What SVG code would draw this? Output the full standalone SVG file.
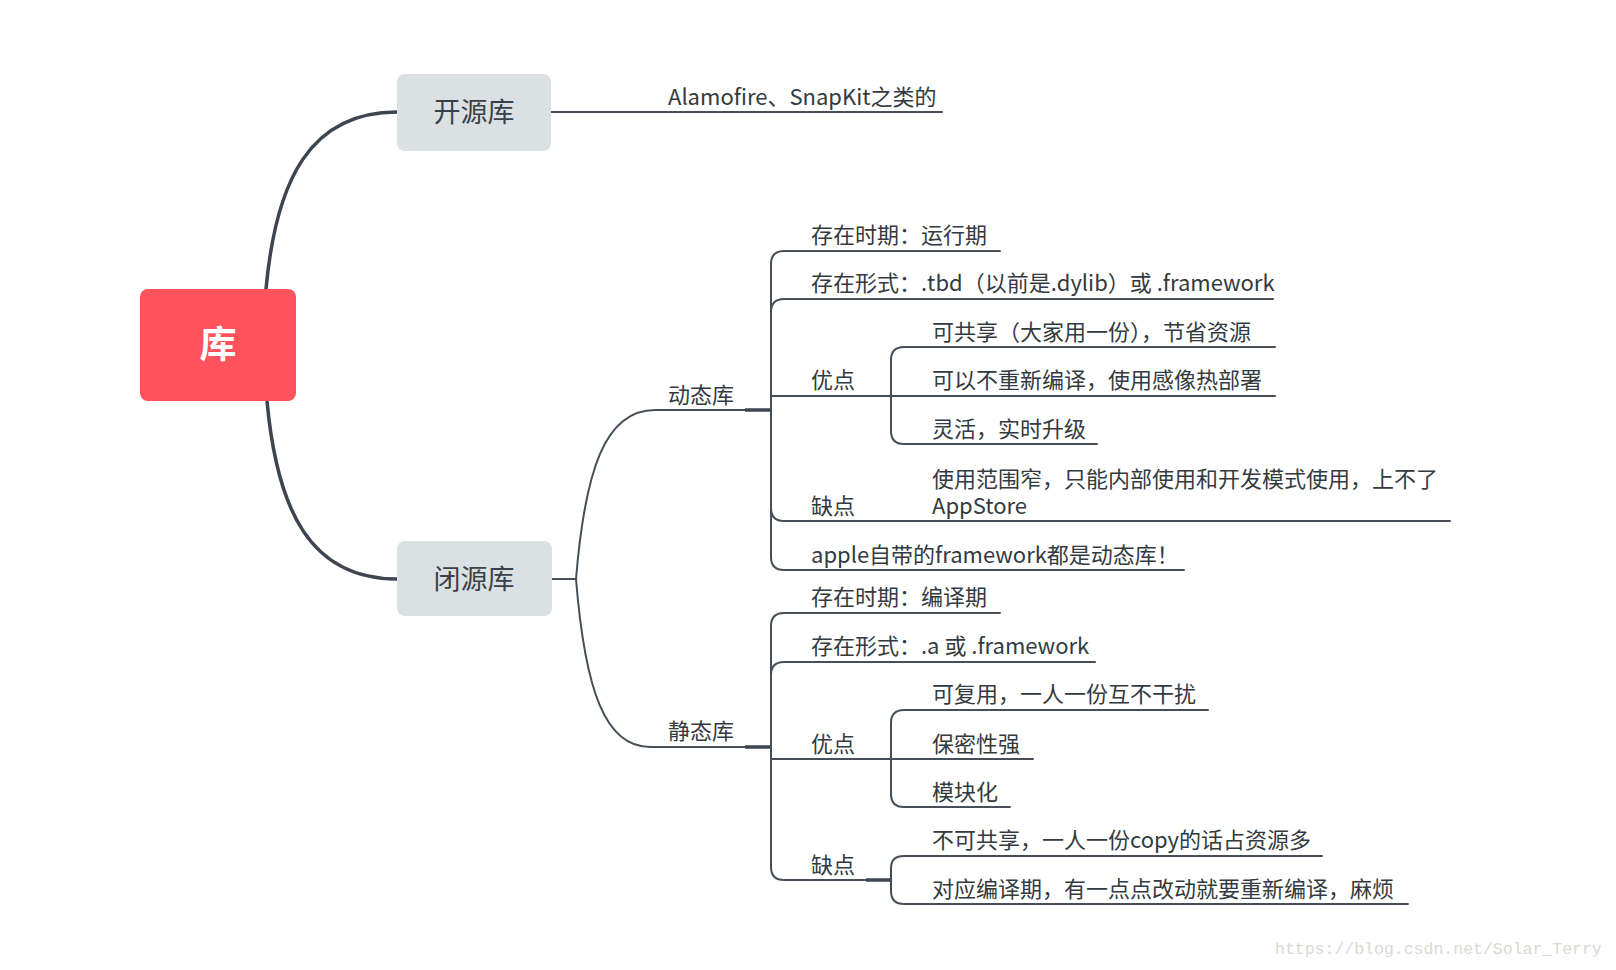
<svg xmlns="http://www.w3.org/2000/svg" width="1616" height="970" viewBox="0 0 1616 970">
<style>
.t{font-family:"Noto Sans CJK SC","Noto Sans",sans-serif;font-size:22px;fill:#333a40}
.main{font-family:"Noto Sans CJK SC","Noto Sans",sans-serif;font-size:27px;fill:#3a4047;text-anchor:middle}
.root{font-family:"Noto Sans CJK SC","Noto Sans",sans-serif;font-size:37px;font-weight:bold;fill:#ffffff;text-anchor:middle}
.l{fill:none;stroke:#464e57;stroke-width:2;stroke-linecap:round}
.b{fill:none;stroke:#3d4550;stroke-width:3.5;stroke-linecap:round}
.wm{font-family:"Liberation Mono",monospace;font-size:16.5px;fill:#dcd8d4}
</style>
<rect width="1616" height="970" fill="#ffffff"/>
<g id="connectors">
  <path class="b" d="M266,289 C276,180 310,112 397,112"/>
  <path class="b" d="M267,401 C277,510 310,579 397,579"/>
  <path class="l" d="M551,112 H942"/>
  <path class="l" d="M552,579 H576"/>
  <path class="l" d="M576,579 C585,470 605,410 655,410 H771"/>
  <path class="l" d="M576,579 C585,690 605,747 650,747 H771"/>
  <path d="M745,410 H771" stroke="#3d4550" stroke-width="3.5" fill="none"/>
  <path d="M745,747 H771" stroke="#3d4550" stroke-width="3.5" fill="none"/>
  <path class="l" d="M771,264 V557"/>
  <path class="l" d="M771,264 Q771,251 784,251 H1000"/>
  <path class="l" d="M771,312 Q771,299 784,299 H1273"/>
  <path class="l" d="M771,396 H1275"/>
  <path class="l" d="M771,508 Q771,521 784,521 H1450"/>
  <path class="l" d="M771,557 Q771,570 784,570 H1184"/>
  <path class="l" d="M891,360 V431"/>
  <path class="l" d="M891,360 Q891,347 904,347 H1275"/>
  <path class="l" d="M891,431 Q891,444 904,444 H1097"/>
  <path class="l" d="M771,626 V867"/>
  <path class="l" d="M771,626 Q771,613 784,613 H1000"/>
  <path class="l" d="M771,675 Q771,662 784,662 H1095"/>
  <path class="l" d="M771,759 H1033"/>
  <path class="l" d="M771,867 Q771,880 784,880 H891"/>
  <path d="M866,880 H891" stroke="#3d4550" stroke-width="3.5" fill="none"/>
  <path class="l" d="M891,723 V794"/>
  <path class="l" d="M891,723 Q891,710 904,710 H1208"/>
  <path class="l" d="M891,794 Q891,807 904,807 H1010"/>
  <path class="l" d="M891,868 V891"/>
  <path class="l" d="M891,868 Q891,856 904,856 H1322"/>
  <path class="l" d="M891,891 Q891,904 904,904 H1408"/>
</g>
<g id="root">
  <rect x="140" y="289" width="156" height="112" rx="8" fill="#ff525c"/>
  <text class="root" x="218" y="358">库</text>
</g>
<g id="open">
  <rect x="397" y="74" width="154" height="77" rx="8" fill="#dbe1e3"/>
  <text class="main" x="474" y="122">开源库</text>
</g>
<g id="open-1"><text class="t" x="668" y="105">Alamofire、SnapKit之类的</text></g>
<g id="closed">
  <rect x="397" y="541" width="155" height="75" rx="8" fill="#dbe1e3"/>
  <text class="main" x="474" y="589">闭源库</text>
</g>
<g id="dyn"><text class="t" x="668" y="403">动态库</text></g>
<g id="dyn-1"><text class="t" x="811" y="243">存在时期：运行期</text></g>
<g id="dyn-2"><text class="t" x="811" y="291">存在形式：.tbd（以前是.dylib）或 .framework</text></g>
<g id="dyn-3"><text class="t" x="811" y="388">优点</text></g>
<g id="dyn-3-1"><text class="t" x="932" y="340">可共享（大家用一份），节省资源</text></g>
<g id="dyn-3-2"><text class="t" x="932" y="388">可以不重新编译，使用感像热部署</text></g>
<g id="dyn-3-3"><text class="t" x="932" y="437">灵活，实时升级</text></g>
<g id="dyn-4"><text class="t" x="811" y="514">缺点</text></g>
<g id="dyn-4-1"><text class="t" x="932" y="487">使用范围窄，只能内部使用和开发模式使用，上不了</text><text class="t" x="932" y="514">AppStore</text></g>
<g id="dyn-5"><text class="t" x="811" y="563">apple自带的framework都是动态库！</text></g>
<g id="sta"><text class="t" x="668" y="739">静态库</text></g>
<g id="sta-1"><text class="t" x="811" y="605">存在时期：编译期</text></g>
<g id="sta-2"><text class="t" x="811" y="654">存在形式：.a 或 .framework</text></g>
<g id="sta-3"><text class="t" x="811" y="752">优点</text></g>
<g id="sta-3-1"><text class="t" x="932" y="702">可复用，一人一份互不干扰</text></g>
<g id="sta-3-2"><text class="t" x="932" y="752">保密性强</text></g>
<g id="sta-3-3"><text class="t" x="932" y="800">模块化</text></g>
<g id="sta-4"><text class="t" x="811" y="873">缺点</text></g>
<g id="sta-4-1"><text class="t" x="932" y="848">不可共享，一人一份copy的话占资源多</text></g>
<g id="sta-4-2"><text class="t" x="932" y="897">对应编译期，有一点点改动就要重新编译，麻烦</text></g>
<text class="wm" x="1275" y="954">https://blog.csdn.net/Solar_Terry</text>
</svg>
